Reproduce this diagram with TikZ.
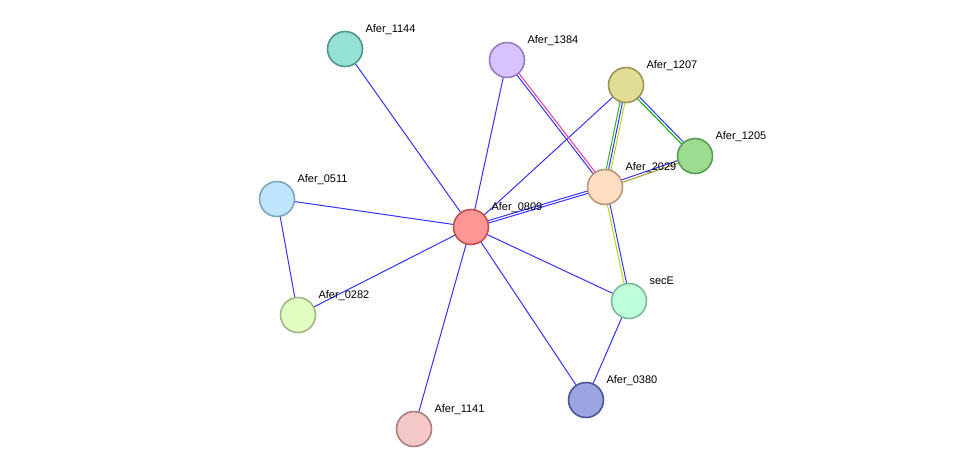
\documentclass[tikz,border=0pt]{standalone}
\usepackage{fontspec}
\setmainfont{Liberation Sans}
\usetikzlibrary{calc}
\tikzset{
  prot/.style={circle,draw,line width=1.6pt,minimum size=35pt,inner sep=0pt},
  plabel/.style={anchor=base west,font=\fontsize{11}{13}\selectfont},
  link/.style={line width=1pt}
}
% one coloured strand of a link, shifted sideways by #3
\newcommand{\strand}[4]{\draw[link,#4] ($(#1)!#3!90:(#2)$) -- ($(#2)!#3!-90:(#1)$);}
\begin{document}
\begin{tikzpicture}[x=1pt,y=-1pt]
  \useasboundingbox (0,0) rectangle (976,475);
  % positions
  \coordinate (p0809) at (471,227);
  \coordinate (p1144) at (345,49);
  \coordinate (p1384) at (507,60);
  \coordinate (p1207) at (626,85);
  \coordinate (p1205) at (695,156);
  \coordinate (p2029) at (605,187);
  \coordinate (p0511) at (277,199);
  \coordinate (p0282) at (298,315);
  \coordinate (psecE) at (629,301);
  \coordinate (p0380) at (586,400);
  \coordinate (p1141) at (414,429);
  % links
  \foreach \t in {1144,1384,1207,0511,0282,1141,0380,secE}
    \strand{p0809}{p\t}{0pt}{blue!80};
  \strand{p0809}{p2029}{-1.2pt}{blue!80}
  \strand{p0809}{p2029}{1.2pt}{blue!80}
  \strand{p0511}{p0282}{0pt}{blue!80}
  \strand{p0380}{psecE}{0pt}{blue!80}
  \strand{p1384}{p2029}{-1.3pt}{blue!80}
  \strand{p1384}{p2029}{1.3pt}{magenta!80}
  \strand{p1207}{p2029}{-2.4pt}{green!60!black!80}
  \strand{p1207}{p2029}{0pt}{blue!80}
  \strand{p1207}{p2029}{2.4pt}{yellow!70!green}
  \strand{p1207}{p1205}{-1.3pt}{green!70!black}
  \strand{p1207}{p1205}{1.3pt}{blue!80}
  \strand{p2029}{p1205}{-1.3pt}{olive!80}
  \strand{p2029}{p1205}{1.3pt}{blue!80}
  \strand{p2029}{psecE}{-1.3pt}{yellow!70!green}
  \strand{p2029}{psecE}{1.3pt}{blue!80}
  % proteins
  \node[prot,fill={rgb,255:red,255;green,150;blue,150},draw={rgb,255:red,190;green,80;blue,80}] (n0809) at (p0809) {};
  \node[prot,fill={rgb,255:red,150;green,225;blue,215},draw={rgb,255:red,80;green,150;blue,140}] (n1144) at (p1144) {};
  \node[prot,fill={rgb,255:red,215;green,195;blue,255},draw={rgb,255:red,145;green,125;blue,195}] (n1384) at (p1384) {};
  \node[prot,fill={rgb,255:red,225;green,220;blue,150},draw={rgb,255:red,155;green,150;blue,85}] (n1207) at (p1207) {};
  \node[prot,fill={rgb,255:red,155;green,220;blue,145},draw={rgb,255:red,90;green,155;blue,85}] (n1205) at (p1205) {};
  \node[prot,fill={rgb,255:red,255;green,222;blue,195},draw={rgb,255:red,185;green,150;blue,120}] (n2029) at (p2029) {};
  \node[prot,fill={rgb,255:red,190;green,230;blue,255},draw={rgb,255:red,125;green,165;blue,190}] (n0511) at (p0511) {};
  \node[prot,fill={rgb,255:red,225;green,255;blue,195},draw={rgb,255:red,160;green,185;blue,130}] (n0282) at (p0282) {};
  \node[prot,fill={rgb,255:red,190;green,255;blue,220},draw={rgb,255:red,125;green,185;blue,155}] (nsecE) at (psecE) {};
  \node[prot,fill={rgb,255:red,155;green,165;blue,225},draw={rgb,255:red,75;green,85;blue,150}] (n0380) at (p0380) {};
  \node[prot,fill={rgb,255:red,245;green,200;blue,200},draw={rgb,255:red,175;green,125;blue,125}] (n1141) at (p1141) {};
  % names
  \foreach \t/\s in {0809/Afer\_0809,1144/Afer\_1144,1384/Afer\_1384,1207/Afer\_1207,1205/Afer\_1205,2029/Afer\_2029,0511/Afer\_0511,0282/Afer\_0282,secE/secE,0380/Afer\_0380,1141/Afer\_1141}
    \node[plabel] (l\t) at ($(p\t)+(17,-17)$) {\s};
\end{tikzpicture}
\end{document}
